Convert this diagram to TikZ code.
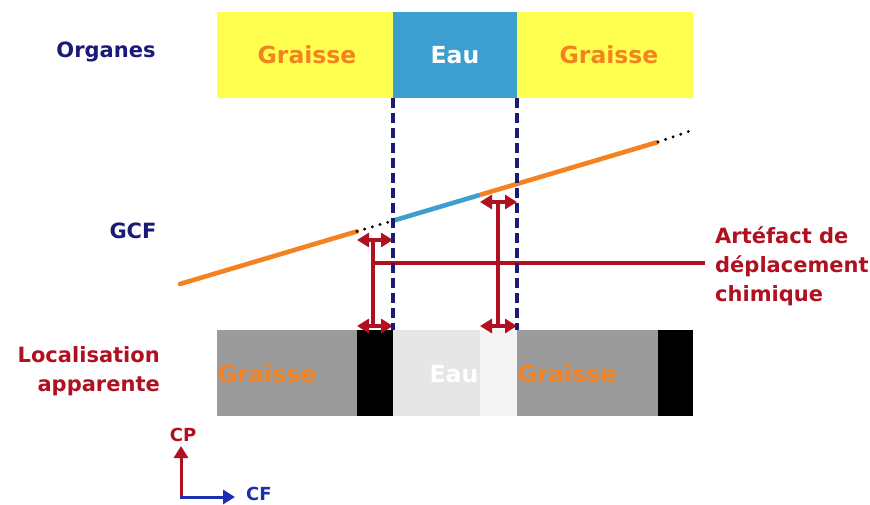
\documentclass[tikz,border=0pt]{standalone}
\usepackage{fontspec}
\setmainfont{DejaVu Sans}
\usetikzlibrary{arrows.meta}
\definecolor{jaune}{HTML}{FFFF4F}
\definecolor{bleueau}{HTML}{3C9FD0}
\definecolor{orgraisse}{HTML}{F58220}
\definecolor{marine}{HTML}{1A1A78}
\definecolor{rouge}{HTML}{B01020}
\definecolor{bleuaxe}{HTML}{1C2FB0}
\definecolor{grisg}{HTML}{9B9B9B}
\definecolor{grisc}{HTML}{E6E6E6}
\definecolor{grisb}{HTML}{F4F4F4}
\begin{document}
\begin{tikzpicture}[x=1pt,y=-1pt,
    bloc/.style={anchor=north west,inner sep=0pt,outer sep=0pt,minimum height=86pt},
    etiq/.style={font=\bfseries\fontsize{21}{29}\selectfont,inner sep=0pt},
    grand/.style={font=\bfseries\fontsize{23.5}{28}\selectfont,inner sep=0pt},
    petit/.style={font=\bfseries\fontsize{18}{20}\selectfont,inner sep=0pt},
    fleche/.style={rouge,line width=3.4pt,{Triangle[width=14pt,length=12pt]}-{Triangle[width=14pt,length=12pt]}},
    trait/.style={rouge,line width=3.4pt},
    limite/.style={marine,line width=3.4pt,dash pattern=on 10pt off 5pt},
    pointille/.style={black,line width=3.2pt,line cap=round,dash pattern=on 0pt off 8pt}]
    \useasboundingbox (0,0) rectangle (870,505);
    \node[bloc,fill=jaune,minimum width=176pt] (og1) at (217,12) {};
    \node[bloc,fill=bleueau,minimum width=124pt] (oe) at (393,12) {};
    \node[bloc,fill=jaune,minimum width=176pt] (og2) at (517,12) {};
    \node[grand,orgraisse] (tog1) at (307,55) {Graisse};
    \node[grand,white] (toe) at (455,55) {Eau};
    \node[grand,orgraisse] (tog2) at (609,55) {Graisse};
    \node[bloc,fill=grisg,minimum width=140pt] (lg1) at (217,330) {};
    \node[bloc,fill=black,minimum width=36pt] (ln1) at (357,330) {};
    \node[bloc,fill=grisc,minimum width=87pt] (le) at (393,330) {};
    \node[bloc,fill=grisb,minimum width=37pt] (lb) at (480,330) {};
    \node[bloc,fill=grisg,minimum width=141pt] (lg2) at (517,330) {};
    \node[bloc,fill=black,minimum width=35pt] (ln2) at (658,330) {};
    \node[grand,orgraisse] (tlg1) at (267,374) {Graisse};
    \node[grand,white] (tle) at (454,374) {Eau};
    \node[grand,orgraisse] (tlg2) at (567,374) {Graisse};
    \node[etiq,marine] (org) at (106,52) {Organes};
    \node[etiq,marine] (gcf) at (133,231) {GCF};
    \node[etiq,rouge,align=right,anchor=east] (loc) at (160,371) {Localisation\\apparente};
    \node[etiq,rouge,align=left,anchor=west] (art) at (715,266) {Artéfact de\\déplacement\\chimique};
    \coordinate (l0) at (180,284);
    \coordinate (l1) at (357,231.4);
    \coordinate (l2) at (393,220.7);
    \coordinate (l3) at (480,194.9);
    \coordinate (l4) at (658,142);
    \coordinate (l5) at (693,130);
    \draw[orgraisse,line width=4.6pt,line cap=round] (l0) -- (l1);
    \draw[pointille] (l1) -- (l2);
    \draw[bleueau,line width=4.6pt] (l2) -- (l3);
    \draw[orgraisse,line width=4.6pt] (l3) -- (l4);
    \draw[pointille] (l4) -- (l5);
    \coordinate (a1) at (357,240);
    \coordinate (a2) at (393,240);
    \coordinate (a3) at (357,326);
    \coordinate (a4) at (393,326);
    \coordinate (b1) at (480,202);
    \coordinate (b2) at (517,202);
    \coordinate (b3) at (480,326);
    \coordinate (b4) at (517,326);
    \coordinate (v1) at (373,240);
    \coordinate (v2) at (373,326);
    \coordinate (w1) at (498,202);
    \coordinate (w2) at (498,326);
    \coordinate (h1) at (373,263);
    \coordinate (h2) at (705,263);
    \draw[trait] (v1) -- (v2);
    \draw[trait] (w1) -- (w2);
    \draw[trait] (h1) -- (h2);
    \draw[fleche] (a1) -- (a2);
    \draw[fleche] (a3) -- (a4);
    \draw[fleche] (b1) -- (b2);
    \draw[fleche] (b3) -- (b4);
    \draw[limite] (oe.south west) -- (le.north west);
    \draw[limite] (oe.south east) -- (lb.north east);
    \coordinate (o) at (181,497);
    \node[petit,rouge] (cp) at (183,435) {CP};
    \node[petit,bleuaxe] (cf) at (259,494) {CF};
    \draw[rouge,line width=3pt,-{Triangle[width=14pt,length=12pt]}] (o) -- (181,446);
    \draw[bleuaxe,line width=3pt,-{Triangle[width=14pt,length=12pt]}] ([xshift=-1.5pt]o) -- (235,497);
\end{tikzpicture}
\end{document}
